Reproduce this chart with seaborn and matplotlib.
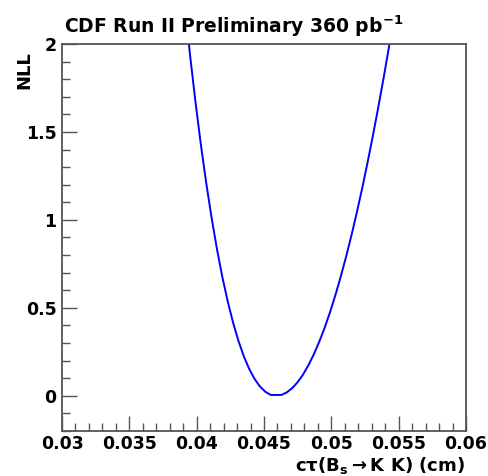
import matplotlib
matplotlib.use("Agg")
import matplotlib.pyplot as plt
from matplotlib.ticker import MultipleLocator
import seaborn as sns
import pandas as pd

# Data
ctau = [0.0391, 0.0395, 0.0399, 0.0403, 0.0407, 0.0411, 0.0415, 0.0419,
        0.0423, 0.0427, 0.0431, 0.0435, 0.0439, 0.0443, 0.0447, 0.0451,
        0.0455, 0.0463, 0.0467, 0.0471, 0.0475, 0.0479, 0.0483, 0.0487,
        0.0491, 0.0495, 0.0499, 0.0503, 0.0507, 0.0511, 0.0515, 0.0519,
        0.0523, 0.0527, 0.0531, 0.0535, 0.0539, 0.0543, 0.0547]
nll = [2.232, 1.943, 1.678, 1.435, 1.215, 1.016, 0.837, 0.678,
       0.539, 0.417, 0.313, 0.225, 0.153, 0.096, 0.053, 0.023,
       0.005, 0.005, 0.020, 0.044, 0.078, 0.121, 0.174, 0.236,
       0.307, 0.386, 0.475, 0.572, 0.678, 0.792, 0.914, 1.045,
       1.183, 1.330, 1.484, 1.646, 1.815, 1.992, 2.176]
x_ticks = [0.03, 0.035, 0.04, 0.045, 0.05, 0.055, 0.06]
x_tick_labels = ["0.03", "0.035", "0.04", "0.045", "0.05", "0.055", "0.06"]
y_ticks = [0, 0.5, 1, 1.5, 2]
y_tick_labels = ["0", "0.5", "1", "1.5", "2"]

sns.set_theme(style="ticks")
plt.rcParams["font.family"] = ["DejaVu Sans"]
plt.rcParams["font.weight"] = "bold"
plt.rcParams["text.color"] = "black"
plt.rcParams["mathtext.fontset"] = "custom"
plt.rcParams["mathtext.rm"] = "DejaVu Sans:bold"
plt.rcParams["mathtext.bf"] = "DejaVu Sans:bold"
plt.rcParams["mathtext.it"] = "DejaVu Sans:bold"
plt.rcParams["mathtext.default"] = "rm"

W, H = 489, 476
fig = plt.figure(figsize=(W / 100, H / 100), dpi=100)
ax = fig.add_axes([62 / W, 1 - 431 / H, (466 - 62) / W, (431 - 44) / H])

df = pd.DataFrame({"ctau": ctau, "nll": nll})
sns.lineplot(data=df, x="ctau", y="nll", sort=False, estimator=None,
             color="#0000ff", linewidth=1.4, ax=ax)

ax.set_xlim(0.03, 0.06)
ax.set_ylim(-0.2, 2.0)

frame_col = "#555555"
for s in ax.spines.values():
    s.set_color(frame_col)
    s.set_linewidth(1.3)

ax.set_xticks(x_ticks)
ax.set_xticklabels(x_tick_labels)
ax.set_yticks(y_ticks)
ax.set_yticklabels(y_tick_labels)
ax.xaxis.set_minor_locator(MultipleLocator(0.001))
ax.yaxis.set_minor_locator(MultipleLocator(0.1))
ax.tick_params(axis="both", which="both", direction="in", color=frame_col,
               top=False, right=False, width=1.0)
ax.tick_params(axis="both", which="major", length=11, labelsize=12.5, pad=4,
               labelcolor="black")
ax.tick_params(axis="x", which="major", pad=3)
ax.tick_params(axis="both", which="minor", length=5.5)
for lab in ax.get_xticklabels() + ax.get_yticklabels():
    lab.set_fontweight("bold")
    lab.set_color("black")

ax.set_xlabel("")
ax.set_ylabel("")
fig.text(465 / W, 1 - 471 / H, r"c$\tau$(B$_{s}$$\rightarrow$K K) (cm)",
         ha="right", va="baseline", fontsize=13, fontweight="bold",
         color="black")
fig.text(33 / W, 1 - 51 / H, "NLL", rotation=90, ha="right", va="top",
         fontsize=13, fontweight="bold", color="black")
fig.text(64 / W, 1 - 33 / H, r"CDF Run II Preliminary 360 pb$^{-1}$",
         ha="left", va="baseline", fontsize=13.5, fontweight="bold",
         color="black")

fig.savefig("out.png", dpi=100, facecolor="white")
